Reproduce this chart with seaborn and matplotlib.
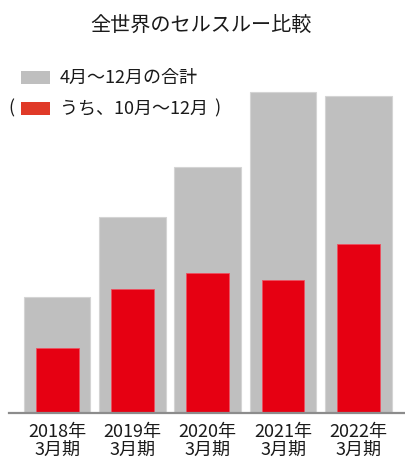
import seaborn as sns
import matplotlib.pyplot as plt
from matplotlib.patches import Rectangle

width, height, my_dpi = 405, 459, 100

periods = ['2018年\n3月期', '2019年\n3月期', '2020年\n3月期', '2021年\n3月期', '2022年\n3月期']
total_apr_dec = [115.8, 195.2, 245.8, 320.5, 316.2]   # 4月～12月の合計 (arbitrary units)
oct_dec = [64.5, 123.2, 139.8, 132.8, 168.2]          # うち、10月～12月

sns.set_style('white')
plt.rcParams['font.family'] = ['Noto Sans CJK JP', 'DejaVu Sans']

fig = plt.figure(figsize=(width / my_dpi, height / my_dpi), dpi=my_dpi)
ax = fig.add_axes([9 / width, 46.5 / height, 396 / width, 332.5 / height])

sns.barplot(x=periods, y=total_apr_dec, color='#BFBFBF', width=0.885,
            edgecolor='#D4D4D4', linewidth=0.8, saturation=1, ax=ax)
sns.barplot(x=periods, y=oct_dec, color='#E60012', width=0.57,
            edgecolor='#EE5060', linewidth=0.6, saturation=1, ax=ax)

ax.set_xlim(-0.64, 4.62)
ax.set_ylim(0, 332.5)
ax.set_yticks([])
for s in ['top', 'right', 'left']:
    ax.spines[s].set_visible(False)
ax.spines['bottom'].set_color('#8C8C8C')
ax.spines['bottom'].set_linewidth(1.6)
ax.tick_params(axis='x', length=0, pad=7.5, labelsize=13, labelcolor='#1a1a1a')
for t in ax.get_xticklabels():
    t.set_linespacing(0.98)

fig.text(201 / width, 1 - 25 / height, '全世界のセルスルー比較', ha='center', va='center',
         fontsize=14.5, color='#1a1a1a')

# legend drawn by hand (with the parentheses around the second entry)
leg = [('#BFBFBF', '4月～12月の合計', 77.7), ('#E03A28', 'うち、10月～12月', 108.3)]
for col, lab, yc in leg:
    fig.patches.append(Rectangle((20.7 / width, 1 - (yc + 6.6) / height), 29.3 / width, 13.3 / height,
                                 transform=fig.transFigure, facecolor=col, edgecolor='none'))
    fig.text(60 / width, 1 - yc / height, lab, ha='left', va='center', fontsize=13, color='#1a1a1a')
fig.text(8 / width, 1 - 108.3 / height, '(', ha='left', va='center', fontsize=13, color='#1a1a1a')
fig.text(214 / width, 1 - 108.3 / height, ')', ha='left', va='center', fontsize=13, color='#1a1a1a')

plt.savefig('out.png', dpi=my_dpi)
